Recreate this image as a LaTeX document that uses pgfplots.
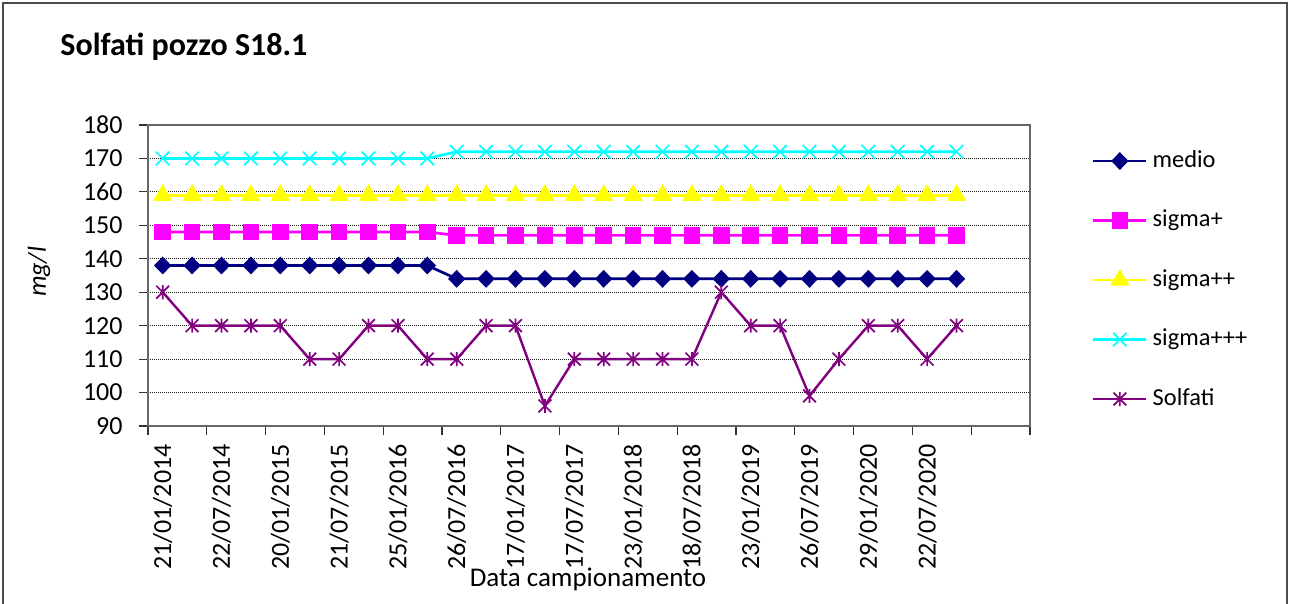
\documentclass[border=0pt]{standalone}
\usepackage{fontspec}
\setmainfont{Carlito}
\usepackage{pgfplots}
\pgfplotsset{compat=1.18}
\usepackage{pgfplotstable}

\definecolor{medioC}{HTML}{000080}
\definecolor{sigAC}{HTML}{FF00FF}
\definecolor{sigBC}{HTML}{FFFF00}
\definecolor{sigCC}{HTML}{00FFFF}
\definecolor{solfC}{HTML}{800080}

% star marker: a cross with a vertical bar through it
\pgfdeclareplotmark{xstar}{%
  \pgfpathmoveto{\pgfqpoint{-\pgfplotmarksize}{-\pgfplotmarksize}}%
  \pgfpathlineto{\pgfqpoint{\pgfplotmarksize}{\pgfplotmarksize}}%
  \pgfpathmoveto{\pgfqpoint{-\pgfplotmarksize}{\pgfplotmarksize}}%
  \pgfpathlineto{\pgfqpoint{\pgfplotmarksize}{-\pgfplotmarksize}}%
  \pgfpathmoveto{\pgfqpoint{0pt}{-1.1\pgfplotmarksize}}%
  \pgfpathlineto{\pgfqpoint{0pt}{1.1\pgfplotmarksize}}%
  \pgfusepathqstroke}

% sampling index, mean, +1/+2/+3 sigma thresholds, measured sulphates (mg/l)
\pgfplotstableread{
idx medio sigp sigpp sigppp solf
0  138 148 159 170 130
1  138 148 159 170 120
2  138 148 159 170 120
3  138 148 159 170 120
4  138 148 159 170 120
5  138 148 159 170 110
6  138 148 159 170 110
7  138 148 159 170 120
8  138 148 159 170 120
9  138 148 159 170 110
10 134 147 159 172 110
11 134 147 159 172 120
12 134 147 159 172 120
13 134 147 159 172 96
14 134 147 159 172 110
15 134 147 159 172 110
16 134 147 159 172 110
17 134 147 159 172 110
18 134 147 159 172 110
19 134 147 159 172 130
20 134 147 159 172 120
21 134 147 159 172 120
22 134 147 159 172 99
23 134 147 159 172 110
24 134 147 159 172 120
25 134 147 159 172 120
26 134 147 159 172 110
27 134 147 159 172 120
}\solfati

\newcommand{\txt}{\fontsize{13}{15}\selectfont}

\begin{document}
\begin{tikzpicture}
\begin{axis}[
  at={(74pt,-213pt)}, anchor=south west,
  scale only axis, width=441pt, height=150.5pt,
  xmin=-0.5, xmax=29.5, ymin=90, ymax=180,
  xtick={-0.5,1.5,...,29.5}, xticklabels={},
  extra x ticks={0,2,...,26},
  extra x tick labels={21/01/2014,22/07/2014,20/01/2015,21/07/2015,25/01/2016,26/07/2016,17/01/2017,17/07/2017,23/01/2018,18/07/2018,23/01/2019,26/07/2019,29/01/2020,22/07/2020},
  extra x tick style={major tick length=0pt},
  xticklabel style={rotate=90, anchor=east, inner sep=0pt, font=\txt},
  xticklabel shift=9pt,
  ytick={90,100,...,180},
  yticklabel style={font=\txt, inner sep=0pt},
  yticklabel shift=8pt,
  /pgf/number format/assume math mode=true,
  tick align=outside, tick pos=left,
  major tick length=4.5pt,
  tick style={black!80, line width=0.6pt},
  axis line style={draw=gray!80!black, line width=0.9pt},
  ymajorgrids,
  grid style={black!90, line width=0.6pt, dash pattern=on 0.5pt off 0.5pt},
  legend cell align=left,
  legend style={at={(1.0703,0.485)}, anchor=west, draw=none, fill=none,
    inner sep=0pt, outer sep=0pt, font=\fontsize{12.2}{14}\selectfont,
    row sep=17.75pt, column sep=2.5pt,
    nodes={inner sep=0pt, text height=9pt, text depth=3pt}},
  legend image code/.code={%
    \draw[#1, mark repeat=2, mark phase=2]
      plot coordinates {(0pt,0pt) (13.25pt,0pt) (26.5pt,0pt)};},
  every axis plot/.append style={line width=1.35pt},
]
\addplot[medioC, mark=diamond*, mark size=3.5pt, mark options={xscale=1.3, solid}]
  table[x=idx, y=medio] {\solfati};
\addlegendentry{medio}
\addplot[sigAC, mark=square*, mark size=3.5pt, mark options={solid}]
  table[x=idx, y=sigp] {\solfati};
\addlegendentry{sigma+}
\addplot[sigBC, mark=triangle*, mark size=4.2pt, mark options={solid}]
  table[x=idx, y=sigpp] {\solfati};
\addlegendentry{sigma++}
\addplot[sigCC, mark=x, mark size=4.8pt, mark options={line width=0.85pt}]
  table[x=idx, y=sigppp] {\solfati};
\addlegendentry{sigma+++}
\addplot[solfC, line width=1.2pt, mark=xstar, mark size=3.2pt, mark options={line width=0.85pt}]
  table[x=idx, y=solf] {\solfati};
\addlegendentry{Solfati}
\end{axis}

% titles and axis names (positions in pt, origin at the top-left corner)
\node[anchor=base west, inner sep=0pt, font=\fontsize{16}{19}\selectfont\bfseries] at (30pt,-28pt) {Solfati pozzo S18.1};
\node[rotate=90, font=\txt\itshape] at (19.5pt,-136pt) {mg/l};
\node[anchor=base, font=\fontsize{13.5}{16}\selectfont] at (294pt,-293pt) {Data campionamento};

% chart frame (open at the bottom edge of the page)
\draw[black!70, line width=1pt] (1.5pt,-310pt) -- (1.5pt,-1.5pt) -- (643.5pt,-1.5pt) -- (643.5pt,-310pt);

\pgfresetboundingbox
\useasboundingbox (0pt,0pt) rectangle (645pt,-302pt);
\end{tikzpicture}
\end{document}
